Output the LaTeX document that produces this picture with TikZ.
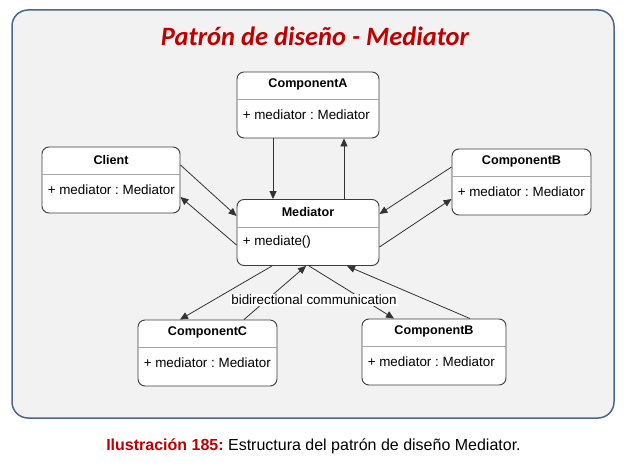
\documentclass[tikz,border=0pt]{standalone}
\usepackage{fontspec}
\setmainfont{Liberation Sans}
\newfontfamily\calibrifont{Carlito}
\usetikzlibrary{arrows.meta,calc}
\definecolor{framecol}{RGB}{74,104,140}
\definecolor{framefill}{RGB}{242,242,242}
\definecolor{titlered}{RGB}{192,0,0}
\definecolor{boxline}{RGB}{60,60,60}
\definecolor{divcol}{RGB}{165,165,165}
\frenchspacing

\begin{document}
\begin{tikzpicture}[x=1pt,y=-1pt,
  cls/.style={draw=boxline,fill=white,rounded corners=7pt,inner sep=0pt,line width=0.9pt},
  clsname/.style={font=\fontsize{12.6}{14}\selectfont\bfseries,inner sep=0pt},
  clsattr/.style={font=\fontsize{13.4}{15}\selectfont,inner sep=0pt,anchor=west},
  msg/.style={draw=black!80,line width=0.8pt,-{Triangle[length=8pt,width=7pt]}}]

  \useasboundingbox (0,0) rectangle (632,473);
  \draw[framecol,fill=framefill,line width=1.5pt,rounded corners=16pt] (12,10) rectangle (614,418);
  \node[font=\calibrifont\fontsize{26.5}{31}\selectfont\bfseries\itshape,text=titlered] (title) at (315,36) {Patrón de diseño - Mediator};

  % classes: name/x/y/width/title/attribute
  \foreach \n/\x/\y/\w/\t/\a in {
      compA/308/105/142/ComponentA/{+ mediator : Mediator},
      client/111/180/138/Client/{+ mediator : Mediator},
      compBr/521.5/182/139/ComponentB/{+ mediator : Mediator},
      med/308/232.5/142/Mediator/{+ mediate()},
      compC/207.5/353/139/ComponentC/{+ mediator : Mediator},
      compBb/434/352/144/ComponentB/{+ mediator : Mediator}}
  {
    \node[cls,minimum width=\w pt,minimum height=66pt] (\n) at (\x,\y) {};
    \node[clsname] (\n-name) at ($(\n.north)+(0,13)$) {\t};
    \draw[divcol,line width=0.8pt] ($(\n.north west)+(0,28)$) -- ($(\n.north east)+(0,28)$);
    \node[clsattr] (\n-attr) at ($(\n.north west)+(6,43)$) {\a};
  }

  % messages
  \draw[msg] ([xshift=-35pt]compA.south) -- ([xshift=-35pt]med.north);
  \draw[msg] ([xshift=36pt]med.north) -- ([xshift=36pt]compA.south);
  \draw[msg] ([yshift=15pt]client.east) -- ([yshift=16.5pt]med.west);
  \draw[msg] ([yshift=-12.5pt]med.west) -- ([yshift=-17pt]client.east);
  \draw[msg] ([yshift=15pt]compBr.west) -- ([yshift=18.5pt]med.east);
  \draw[msg] ([yshift=-14.5pt]med.east) -- ([yshift=-17pt]compBr.west);
  \draw[msg] ([xshift=-36pt]med.south) -- ([xshift=-27.5pt]compC.north);
  \draw[msg] ([xshift=36.5pt]compC.north) -- ([xshift=-2pt]med.south);
  \draw[msg] ([xshift=1pt]med.south) -- ([xshift=-40pt]compBb.north);
  \draw[msg] ([xshift=36pt]compBb.north) -- ([xshift=39pt]med.south);

  \node[fill=white,inner sep=1pt,font=\fontsize{13.4}{15}\selectfont] (comm) at (314,300) {bidirectional communication};

  \node[font=\fontsize{16}{19}\selectfont] (caption) at (313.5,446) {\textcolor{titlered}{\bfseries Ilustración 185:} Estructura del patrón de diseño Mediator.};
\end{tikzpicture}
\end{document}
